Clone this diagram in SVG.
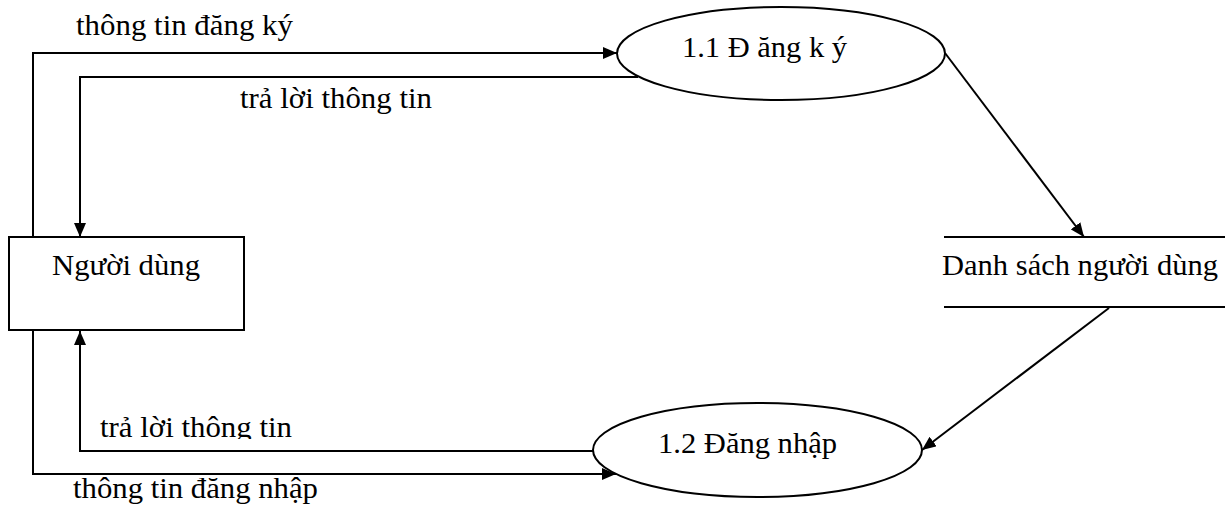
<svg xmlns="http://www.w3.org/2000/svg" width="1231" height="509" viewBox="0 0 1231 509">
<style>
.t{font-family:'Liberation Serif','Tinos','Times New Roman','DejaVu Serif','Noto Serif',serif;font-size:29px;fill:#000}
.s{fill:none;stroke:#000;stroke-width:2}
.n{fill:#fff;stroke:#000;stroke-width:2}
</style>
<defs>
<marker id="a" markerWidth="14" markerHeight="12" refX="14" refY="6" orient="auto" markerUnits="userSpaceOnUse">
<path d="M0,0 L14,6 L0,12 Z" fill="#000"/>
</marker>
<clipPath id="cl"><rect x="90" y="400" width="230" height="39"/></clipPath>
</defs>
<rect width="1231" height="509" fill="#fff"/>
<g id="connectors">
<polyline class="s" points="33,237 33,53 617,53" marker-end="url(#a)"/>
<polyline class="s" points="638,77 80,77 80,237" marker-end="url(#a)"/>
<polyline class="s" points="33,331 33,474 616,474" marker-end="url(#a)"/>
<polyline class="s" points="593,451 80,451 80,331" marker-end="url(#a)"/>
<line class="s" x1="945" y1="53" x2="1084" y2="237" marker-end="url(#a)"/>
<line class="s" x1="1109" y1="308" x2="922" y2="450" marker-end="url(#a)"/>
<text class="t" x="76" y="35" textLength="217" lengthAdjust="spacingAndGlyphs">thông tin đăng ký</text>
<text class="t" x="240" y="108" textLength="192" lengthAdjust="spacingAndGlyphs">trả lời thông tin</text>
<text class="t" x="100" y="437" textLength="192" lengthAdjust="spacingAndGlyphs" clip-path="url(#cl)">trả lời thông tin</text>
<text class="t" x="73" y="498" textLength="245" lengthAdjust="spacingAndGlyphs">thông tin đăng nhập</text>
</g>
<g id="n_dangky">
<ellipse class="n" cx="781" cy="53.5" rx="164" ry="46.5"/>
<text class="t" x="682" y="57" textLength="165" lengthAdjust="spacingAndGlyphs">1.1 Đ ăng k ý</text>
</g>
<g id="n_nguoidung">
<rect class="n" x="9" y="237" width="235" height="93"/>
<text class="t" x="52" y="275" textLength="148" lengthAdjust="spacingAndGlyphs">Người dùng</text>
</g>
<g id="n_danhsach">
<line class="s" x1="944" y1="237" x2="1225" y2="237"/>
<line class="s" x1="944" y1="307" x2="1225" y2="307"/>
<text class="t" x="942" y="275" textLength="276" lengthAdjust="spacingAndGlyphs">Danh sách người dùng</text>
</g>
<g id="n_dangnhap">
<ellipse class="n" cx="757.5" cy="450" rx="164.5" ry="47"/>
<text class="t" x="658" y="453" textLength="179" lengthAdjust="spacingAndGlyphs">1.2 Đăng nhập</text>
</g>
</svg>
